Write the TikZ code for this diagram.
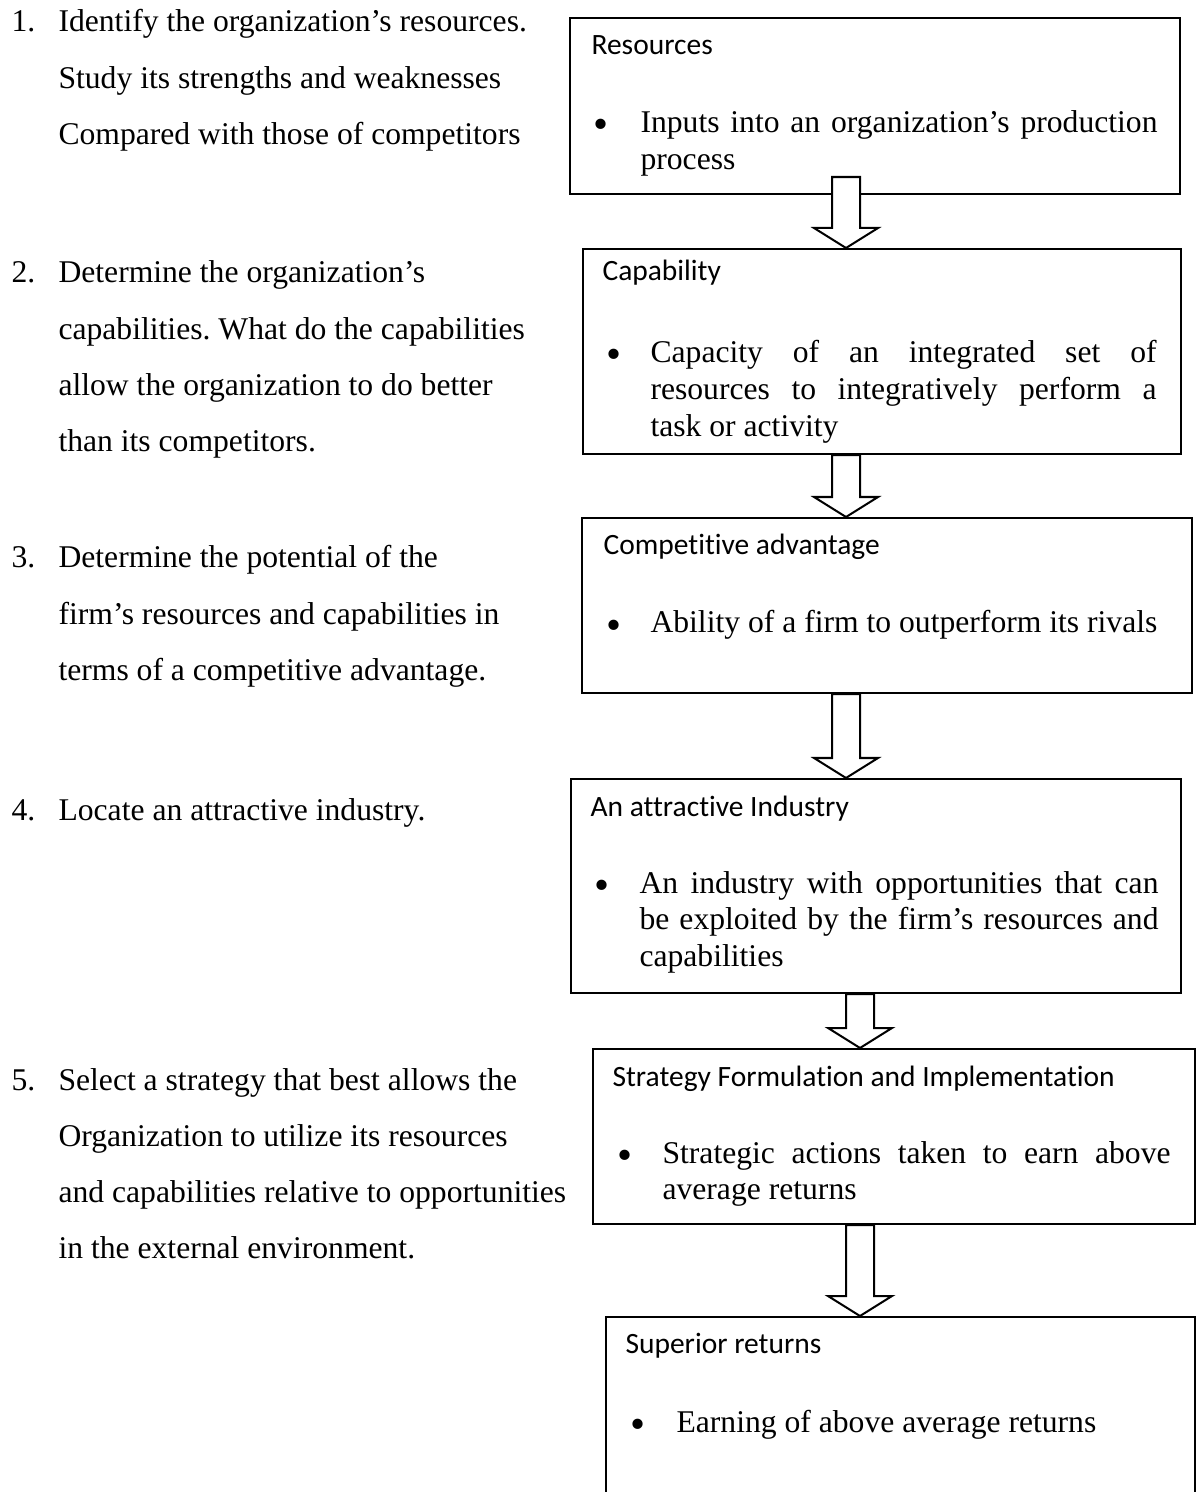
\documentclass[tikz,border=0pt]{standalone}
\usepackage{fontspec}
\setmainfont{Liberation Serif}
\newfontfamily\titlefont[Ligatures=NoCommon]{Carlito}
\usetikzlibrary{positioning,calc}
% one reference pixel, as a length
\newcommand{\px}[1]{\fpeval{0.3731*(#1)}pt}

\begin{document}
\frenchspacing
\begin{tikzpicture}[x=0.3731pt,y=-0.3731pt,
    stagebox/.style={draw,line width=0.75pt,anchor=north west,inner sep=0pt},
    stagetitle/.style={anchor=base west,inner sep=0pt,font=\titlefont\fontsize{11}{13}\selectfont},
    stagedot/.style={anchor=base west,inner sep=0pt,font=\fontsize{16}{16}\selectfont},
    stagetext/.style={anchor=base west,inner sep=0pt,align=justify,font=\fontsize{11.8}{13.8}\selectfont},
    tasknum/.style={anchor=base west,inner sep=0pt,font=\fontsize{11.8}{20.9}\selectfont},
    tasktext/.style={anchor=base west,inner sep=0pt,align=flush left,text width=\px{505},font=\fontsize{11.8}{20.9}\selectfont},
    blockarrow/.style={draw,fill=white,line width=0.75pt,line join=miter}]
  \useasboundingbox (0,0) rectangle (1196,1492);

  % steps on the left
  \node[tasknum] (n1) at (11,32) {1.};
  \node[tasktext] (t1) at (58,32) {Identify the organization's resources.\\Study its strengths and weaknesses\\Compared with those of competitors};
  \node[tasknum] (n2) at (11,283) {2.};
  \node[tasktext] (t2) at (58,283) {Determine the organization's\\capabilities. What do the capabilities\\allow the organization to do better\\than its competitors.};
  \node[tasknum] (n3) at (11,568) {3.};
  \node[tasktext] (t3) at (58,568) {Determine the potential of the\\firm's resources and capabilities in\\terms of a competitive advantage.};
  \node[tasknum] (n4) at (11,820) {4.};
  \node[tasktext] (t4) at (58,820) {Locate an attractive industry.};
  \node[tasknum] (n5) at (11,1090) {5.};
  \node[tasktext,text width=\px{530}] (t5) at (58,1090) {Select a strategy that best allows the\\Organization to utilize its resources\\and capabilities relative to opportunities\\in the external environment.};

  % boxes on the right
  \node[stagebox,minimum width=\px{610},minimum height=\px{176}] (res) at (569,17) {};
  \node[stagetitle] (res-t) at ([shift={(22,38)}]res.north west) {Resources};
  \node[stagedot] (res-d) at ([shift={(24,122)}]res.north west) {\textbullet};
  \node[stagetext,text width=\px{517}] (res-x) at ([shift={(71,116)}]res.north west) {Inputs into an organization's production\linebreak process};

  \node[stagebox,minimum width=\px{598},minimum height=\px{205}] (cap) at (582,248) {};
  \node[stagetitle] (cap-t) at ([shift={(20,33)}]cap.north west) {Capability};
  \node[stagedot] (cap-d) at ([shift={(24,121)}]cap.north west) {\textbullet};
  \node[stagetext,text width=\px{506}] (cap-x) at ([shift={(68,115)}]cap.north west) {Capacity of an integrated set of\linebreak resources to integratively perform a\linebreak task or activity};

  \node[stagebox,minimum width=\px{610},minimum height=\px{175}] (comp) at (581,517) {};
  \node[stagetitle] (comp-t) at ([shift={(22,38)}]comp.north west) {Competitive advantage};
  \node[stagedot] (comp-d) at ([shift={(25,122)}]comp.north west) {\textbullet};
  \node[stagetext,text width=\px{530}] (comp-x) at ([shift={(69,116)}]comp.north west) {Ability of a firm to outperform its rivals};

  \node[stagebox,minimum width=\px{610},minimum height=\px{214}] (ind) at (570,778) {};
  \node[stagetitle] (ind-t) at ([shift={(20,38)}]ind.north west) {An attractive Industry};
  \node[stagedot] (ind-d) at ([shift={(24,121)}]ind.north west) {\textbullet};
  \node[stagetext,text width=\px{519}] (ind-x) at ([shift={(69,115)}]ind.north west) {An industry with opportunities that can\linebreak be exploited by the firm's resources and\linebreak capabilities};

  \node[stagebox,minimum width=\px{602},minimum height=\px{175}] (strat) at (592,1048) {};
  \node[stagetitle] (strat-t) at ([shift={(20,38)}]strat.north west) {Strategy Formulation and Implementation};
  \node[stagedot] (strat-d) at ([shift={(25,121)}]strat.north west) {\textbullet};
  \node[stagetext,text width=\px{508}] (strat-x) at ([shift={(70,115)}]strat.north west) {Strategic actions taken to earn above\linebreak average returns};

  \node[stagebox,minimum width=\px{589},minimum height=\px{230}] (sup) at (605,1316) {};
  \node[stagetitle] (sup-t) at ([shift={(20,37)}]sup.north west) {Superior returns};
  \node[stagedot] (sup-d) at ([shift={(25,122)}]sup.north west) {\textbullet};
  \node[stagetext,text width=\px{500}] (sup-x) at ([shift={(71,116)}]sup.north west) {Earning of above average returns};

  % hollow arrows between the boxes
  \coordinate (axA) at (846,0);
  \coordinate (axB) at (860,0);
  \foreach \a/\b/\c/\s in {res/cap/axA/-18,cap/comp/axA/0,comp/ind/axA/0,ind/strat/axB/0,strat/sup/axB/0}
    \draw[blockarrow] ($(\c |- \a.south)+(-14,\s)$) -- ($(\c |- \b.north)+(-14,-20)$) -- ++(-18,0)
      -- (\c |- \b.north) -- ++(32,-20) -- ++(-18,0) -- ($(\c |- \a.south)+(14,\s)$) -- cycle;
\end{tikzpicture}
\end{document}
